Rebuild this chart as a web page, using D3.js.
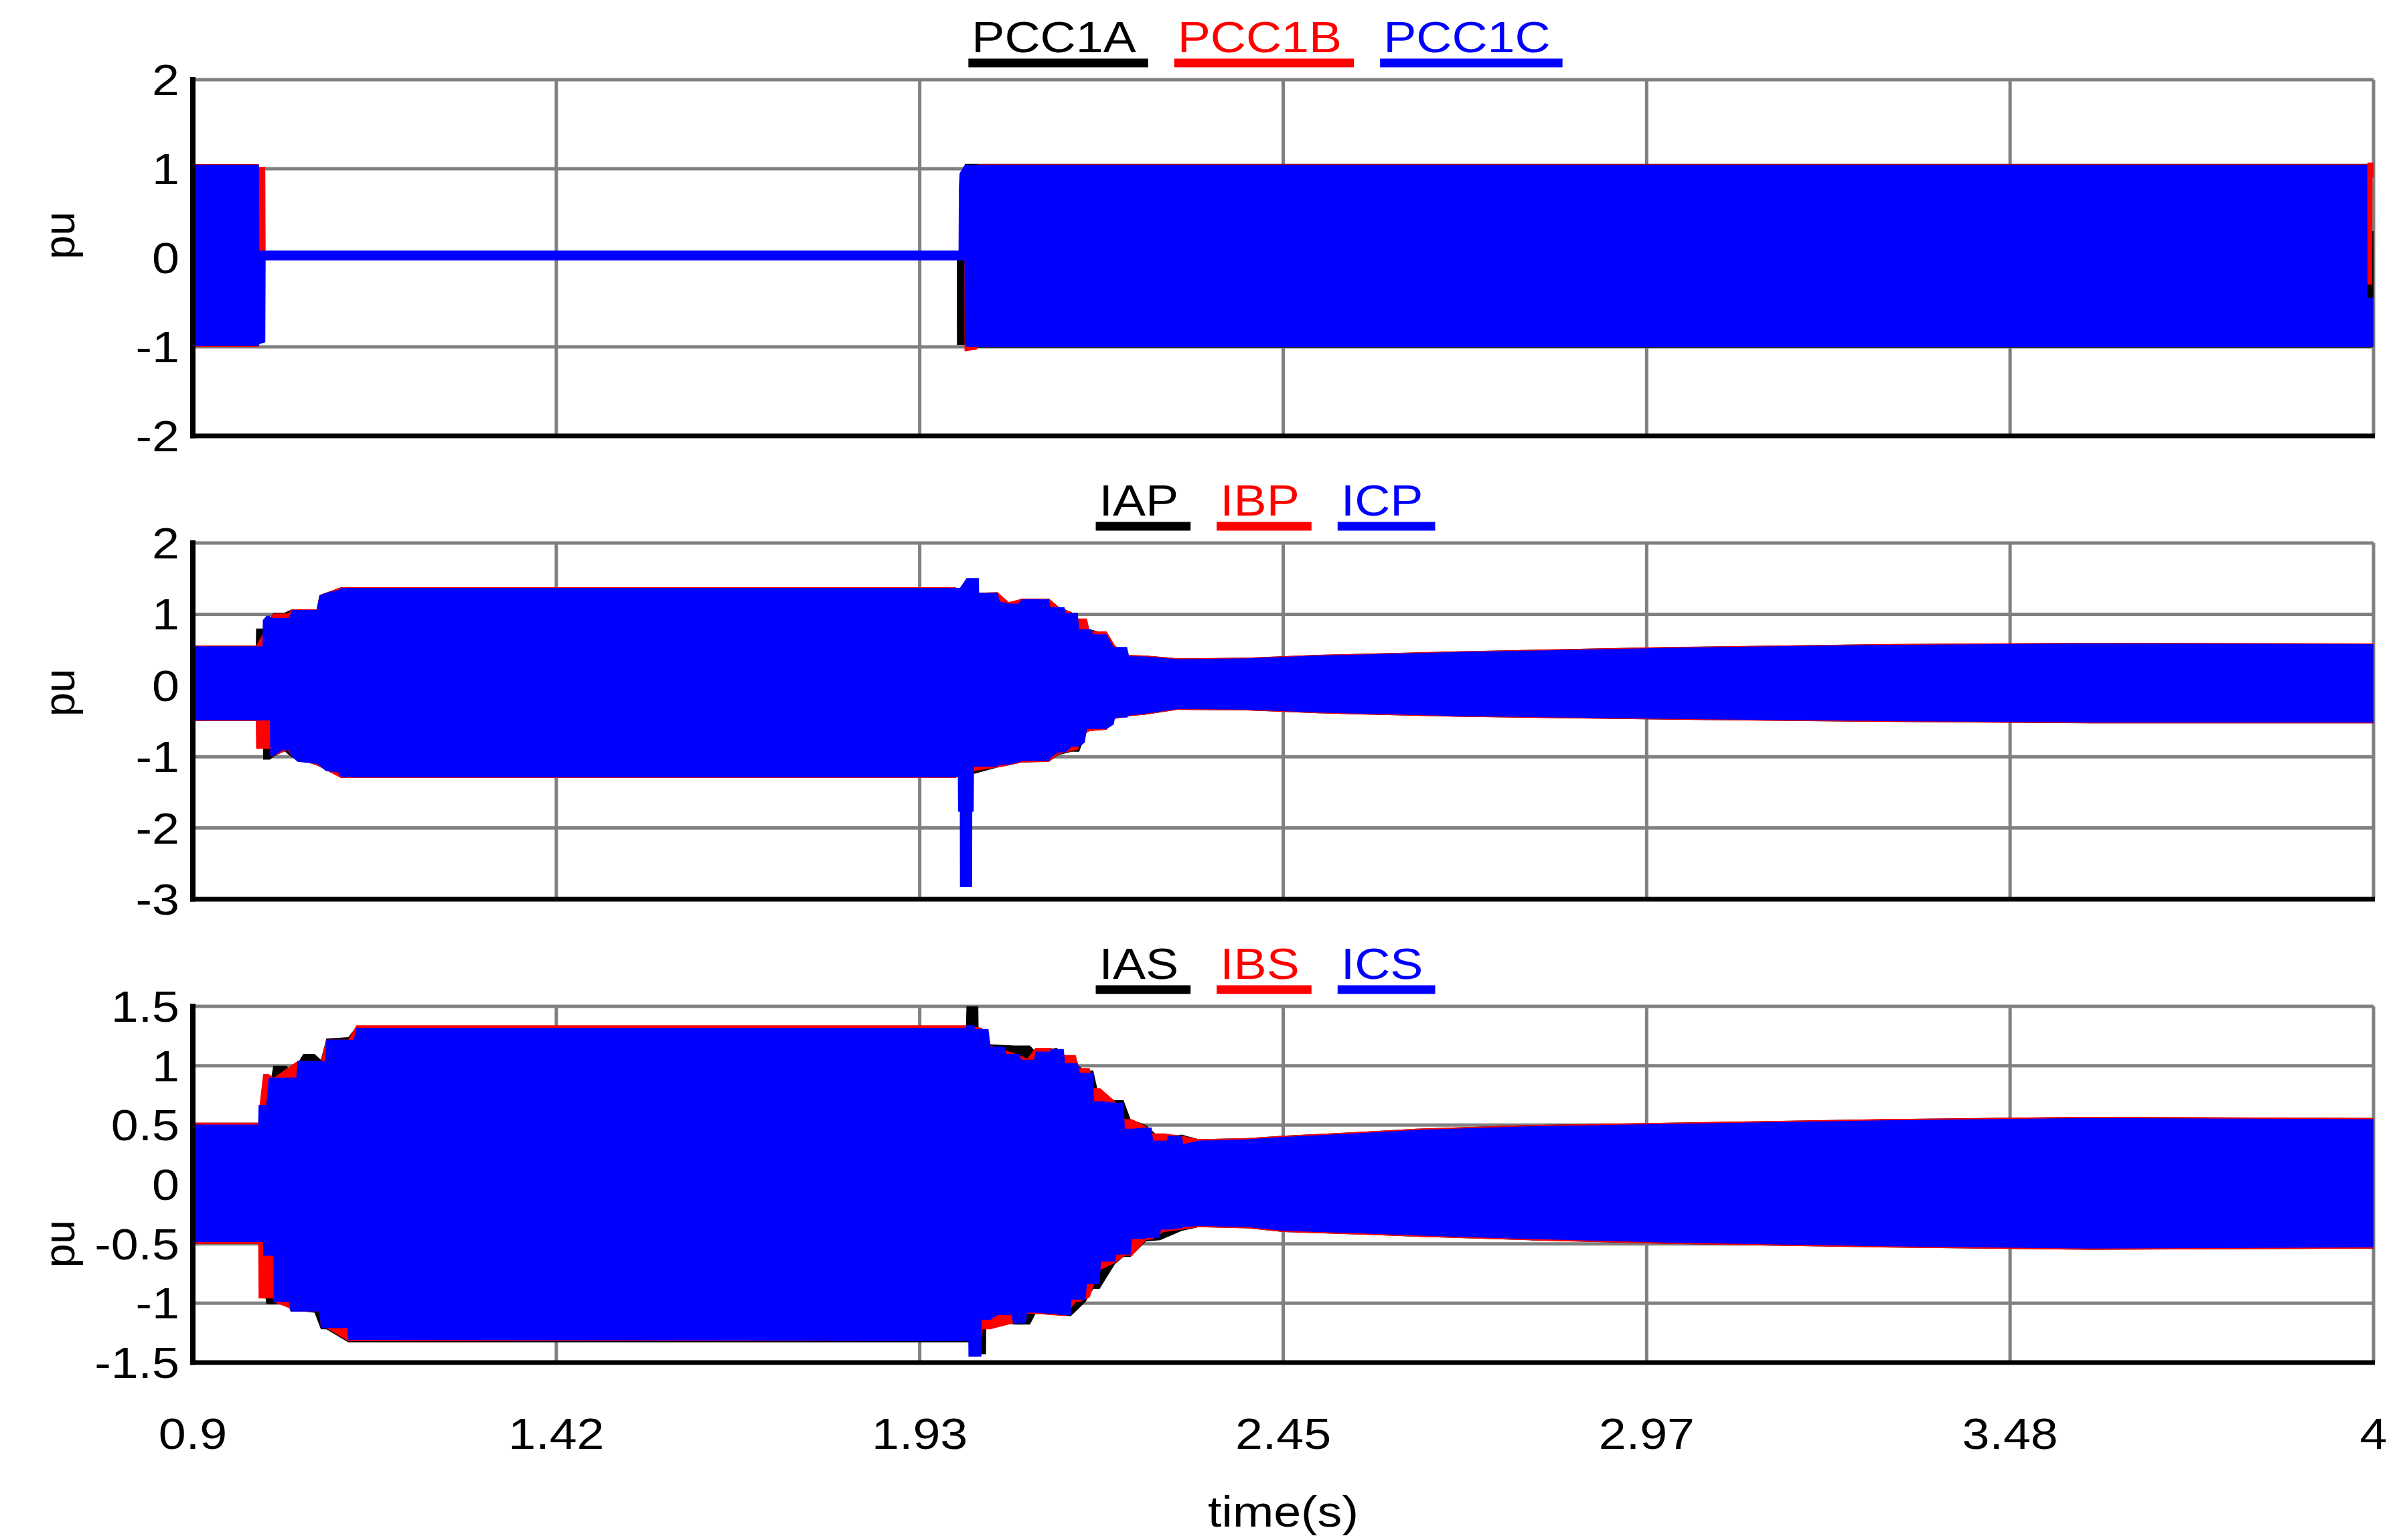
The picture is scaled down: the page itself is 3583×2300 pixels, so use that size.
<!DOCTYPE html>
<html><head><meta charset="utf-8">
<script src="https://cdn.jsdelivr.net/npm/d3@7/dist/d3.min.js"></script>
<style>html,body{margin:0;padding:0;background:#fff;}svg{display:block;}</style>
</head><body>
<svg id="chart" width="3583" height="2300"></svg>
<script>
// ---------- DATA (envelopes: [time, lower, upper]) ----------
const timeTicks = [0.9, 1.4167, 1.9333, 2.45, 2.9667, 3.4833, 4];
const timeTickLabels = ["0.9", "1.42", "1.93", "2.45", "2.97", "3.48", "4"];
const p1Ticks = [2, 1, 0, -1, -2];
const p2Ticks = [2, 1, 0, -1, -2, -3];
const p3Ticks = [1.5, 1, 0.5, 0, -0.5, -1, -1.5];
const p3TickLabels = ["1.5", "1", "0.5", "0", "-0.5", "-1", "-1.5"];

const PCC1A = [[0.900,-1.00,1.05],[0.9935,-1.00,1.05],[0.994,-0.02,0.05],[1.986,-0.02,0.05],[1.9862,-0.98,0.05],
  [1.997,-0.98,0.05],[1.9975,-1.01,1.055],[3.9975,-1.01,1.055],[3.998,-0.55,0.30],[4.0,-0.55,0.30]];
const PCC1B = [[0.900,-1.00,1.05],[0.9935,-1.00,1.05],[0.994,0.00,1.02],[1.003,0.00,1.02],[1.0035,-0.02,0.05],
  [1.9968,-0.02,0.05],[1.997,-1.05,0.05],[2.015,-1.03,1.0],[2.0155,-1.00,1.05],[3.991,-1.00,1.05],
  [3.9915,-0.30,1.07],[3.998,-0.30,1.07],[3.9985,0.90,1.07],[4.0,0.90,1.07]];
const PCC1C = [[0.900,-0.99,1.045],[0.994,-0.99,1.045],[0.9945,-0.97,0.08],[1.003,-0.95,0.08],[1.0035,-0.03,0.08],
  [1.9885,-0.03,0.08],[1.989,-0.03,0.80],[1.990,-0.03,0.95],[1.997,-0.03,1.04],[1.9975,-0.95,1.04],
  [2.000,-1.00,1.045],[3.991,-1.00,1.045],[3.9915,-1.00,-0.45],[4.0,-1.00,-0.45]];

const IAP = [[0.900,-0.50,0.56],[0.9895,-0.50,0.56],[0.990,-0.50,0.80],[0.9995,-0.50,0.80],[1.000,-1.04,0.80],
  [1.0095,-1.04,0.95],[1.0148,-1.00,1.02],[1.030,-0.92,1.02],[1.041,-1.01,1.07],[1.076,-1.12,1.07],
  [1.080,-1.14,1.27],[1.111,-1.30,1.38],[1.985,-1.30,1.38],[1.9855,-1.24,1.30],[2.0105,-1.24,1.30],
  [2.044,-1.15,1.31],[2.060,-1.12,1.16],[2.079,-1.08,1.22],[2.117,-1.07,1.22],[2.130,-0.98,1.11],
  [2.149,-0.93,1.03],[2.160,-0.93,0.90],[2.171,-0.64,0.80],[2.199,-0.62,0.73],[2.211,-0.46,0.55],
  [2.231,-0.43,0.42],[2.253,-0.41,0.42],[2.30,-0.34,0.38],[2.40,-0.35,0.39],[2.50,-0.39,0.43],
  [2.70,-0.44,0.48],[3.00,-0.48,0.54],[3.30,-0.51,0.58],[3.60,-0.53,0.60],[4.00,-0.53,0.59]];
const IBP = [[0.900,-0.50,0.56],[0.9895,-0.50,0.56],[0.990,-0.89,0.56],[1.0095,-0.89,0.90],[1.010,-0.99,0.96],
  [1.015,-0.99,1.01],[1.035,-0.91,1.01],[1.041,-1.00,1.07],[1.076,-1.12,1.07],[1.080,-1.14,1.27],
  [1.111,-1.30,1.38],[1.985,-1.30,1.38],[1.9855,-1.20,1.30],[2.0105,-1.20,1.30],[2.044,-1.15,1.31],
  [2.060,-1.12,1.17],[2.079,-1.08,1.22],[2.117,-1.07,1.22],[2.130,-0.97,1.11],[2.149,-0.92,1.03],
  [2.158,-0.90,0.94],[2.171,-0.66,0.94],[2.175,-0.64,0.76],[2.199,-0.62,0.76],[2.211,-0.47,0.56],
  [2.231,-0.43,0.43],[2.253,-0.41,0.42],[2.30,-0.34,0.38],[2.40,-0.35,0.39],[2.50,-0.39,0.43],
  [2.70,-0.44,0.48],[3.00,-0.48,0.54],[3.30,-0.51,0.58],[3.60,-0.53,0.60],[4.00,-0.53,0.59]];
const ICP = [[0.900,-0.49,0.55],[0.999,-0.49,0.55],[0.9995,-0.49,0.92],[1.005,-0.49,0.98],[1.0095,-0.49,0.98],
  [1.0100,-0.99,0.96],[1.0150,-0.99,0.95],[1.0276,-0.91,0.95],[1.0366,-0.91,0.95],[1.041,-1.00,1.06],
  [1.049,-1.07,1.06],[1.076,-1.10,1.06],[1.080,-1.12,1.26],[1.089,-1.20,1.30],[1.1066,-1.22,1.34],
  [1.111,-1.29,1.37],[1.9875,-1.29,1.37],[1.9878,-1.77,1.37],[1.9903,-1.77,1.37],[1.9905,-2.83,1.37],
  [2.0000,-2.83,1.51],[2.0078,-2.83,1.51],[2.0080,-1.77,1.51],[2.0100,-1.77,1.51],[2.0105,-1.14,1.51],
  [2.0173,-1.14,1.51],[2.0178,-1.14,1.30],[2.044,-1.14,1.30],[2.047,-1.11,1.18],[2.060,-1.11,1.15],
  [2.073,-1.08,1.15],[2.079,-1.06,1.21],[2.117,-1.06,1.21],[2.119,-1.02,1.10],[2.130,-0.94,1.10],
  [2.139,-0.94,1.10],[2.141,-0.94,1.02],[2.149,-0.86,1.02],[2.158,-0.86,1.02],[2.160,-0.86,0.79],
  [2.168,-0.80,0.79],[2.171,-0.61,0.79],[2.177,-0.61,0.79],[2.180,-0.61,0.72],[2.199,-0.61,0.72],
  [2.209,-0.55,0.54],[2.211,-0.45,0.54],[2.228,-0.45,0.54],[2.231,-0.42,0.41],[2.253,-0.40,0.41],
  [2.30,-0.33,0.37],[2.40,-0.34,0.38],[2.50,-0.38,0.42],[2.70,-0.43,0.47],[3.00,-0.47,0.53],
  [3.30,-0.50,0.57],[3.60,-0.52,0.59],[4.00,-0.52,0.58]];

const IAS = [[0.900,-0.50,0.52],[0.993,-0.50,0.52],[1.0045,-1.01,0.67],[1.0144,-1.01,1.00],[1.034,-0.99,1.00],
  [1.039,-1.07,0.92],[1.057,-1.07,1.10],[1.073,-1.08,1.10],[1.082,-1.22,1.05],[1.0898,-1.22,1.23],
  [1.121,-1.33,1.24],[1.1325,-1.33,1.33],[1.999,-1.33,1.33],[2.000,-1.33,1.55],[2.0165,-1.33,1.55],
  [2.017,-1.20,1.30],[2.021,-1.43,1.30],[2.0275,-1.43,1.30],[2.028,-1.15,1.30],[2.034,-1.15,1.18],
  [2.068,-1.18,1.17],[2.090,-1.18,1.17],[2.098,-1.09,1.12],[2.128,-1.10,1.15],[2.148,-1.11,1.04],
  [2.169,-0.99,0.96],[2.180,-0.88,0.96],[2.189,-0.88,0.72],[2.211,-0.67,0.71],[2.223,-0.61,0.71],
  [2.233,-0.61,0.55],[2.255,-0.48,0.50],[2.275,-0.47,0.39],[2.306,-0.39,0.42],[2.33,-0.36,0.38],
  [2.40,-0.37,0.39],[2.45,-0.40,0.41],[2.55,-0.42,0.44],[2.64,-0.44,0.47],[2.80,-0.47,0.50],
  [3.00,-0.50,0.52],[3.30,-0.53,0.55],[3.60,-0.55,0.57],[4.00,-0.54,0.56]];
const IBS = [[0.900,-0.50,0.52],[0.993,-0.50,0.52],[0.9935,-0.96,0.60],[1.000,-0.96,0.93],[1.0078,-0.96,0.93],
  [1.0144,-0.96,0.90],[1.015,-0.99,0.90],[1.049,-1.07,1.04],[1.080,-1.07,1.04],[1.082,-1.21,1.04],
  [1.0898,-1.21,1.22],[1.121,-1.32,1.22],[1.1325,-1.32,1.34],[1.999,-1.32,1.34],[2.021,-1.32,1.32],
  [2.023,-1.22,1.31],[2.034,-1.22,1.17],[2.066,-1.17,1.11],[2.086,-1.09,1.06],[2.098,-1.09,1.15],
  [2.120,-1.10,1.15],[2.140,-1.11,1.09],[2.155,-0.99,1.09],[2.160,-0.99,0.98],[2.175,-0.95,0.98],
  [2.180,-0.86,0.81],[2.190,-0.72,0.81],[2.211,-0.66,0.70],[2.225,-0.60,0.55],[2.235,-0.60,0.55],
  [2.255,-0.47,0.49],[2.265,-0.46,0.43],[2.280,-0.40,0.43],[2.306,-0.38,0.41],[2.33,-0.36,0.38],
  [2.40,-0.37,0.39],[2.45,-0.40,0.41],[2.55,-0.42,0.44],[2.64,-0.44,0.47],[2.80,-0.47,0.50],
  [3.00,-0.50,0.52],[3.30,-0.53,0.55],[3.60,-0.55,0.57],[4.00,-0.54,0.56]];
const ICS = [[0.900,-0.485,0.505],[0.993,-0.485,0.505],[0.9935,-0.485,0.67],[0.9996,-0.485,0.67],[1.000,-0.60,0.67],
  [1.0045,-0.60,0.67],[1.0078,-0.60,0.90],[1.0144,-0.60,0.90],[1.015,-0.99,0.90],[1.037,-0.99,0.90],
  [1.039,-1.07,0.90],[1.047,-1.07,0.90],[1.049,-1.07,1.04],[1.080,-1.07,1.04],[1.082,-1.21,1.04],
  [1.088,-1.21,1.04],[1.0898,-1.21,1.22],[1.1193,-1.21,1.22],[1.121,-1.31,1.22],[1.129,-1.31,1.22],
  [1.1325,-1.31,1.32],[1.999,-1.32,1.32],[1.9995,-1.32,1.34],[2.0024,-1.32,1.34],[2.0026,-1.45,1.34],
  [2.011,-1.45,1.34],[2.0125,-1.45,1.31],[2.021,-1.45,1.31],[2.0215,-1.14,1.31],[2.031,-1.14,1.31],
  [2.034,-1.14,1.16],[2.044,-1.10,1.16],[2.054,-1.10,1.16],[2.056,-1.10,1.10],[2.064,-1.10,1.10],
  [2.066,-1.17,1.10],[2.074,-1.17,1.10],[2.078,-1.17,1.05],[2.084,-1.17,1.05],[2.086,-1.08,1.05],
  [2.096,-1.08,1.05],[2.098,-1.08,1.12],[2.118,-1.09,1.12],[2.120,-1.09,1.14],[2.128,-1.09,1.14],
  [2.129,-1.10,1.14],[2.138,-1.10,1.14],[2.140,-1.10,1.02],[2.148,-1.10,1.02],[2.149,-0.97,1.02],
  [2.158,-0.97,1.02],[2.161,-0.97,0.94],[2.169,-0.97,0.94],[2.171,-0.84,0.94],[2.180,-0.84,0.94],
  [2.181,-0.84,0.70],[2.189,-0.84,0.70],[2.191,-0.65,0.70],[2.211,-0.65,0.69],[2.213,-0.59,0.69],
  [2.223,-0.59,0.69],[2.225,-0.59,0.47],[2.233,-0.59,0.47],[2.235,-0.46,0.47],[2.255,-0.46,0.48],
  [2.256,-0.45,0.48],[2.263,-0.45,0.48],[2.265,-0.45,0.37],[2.275,-0.45,0.37],[2.276,-0.38,0.37],
  [2.285,-0.38,0.37],[2.286,-0.38,0.41],[2.306,-0.37,0.41],[2.308,-0.36,0.34],[2.33,-0.35,0.37],
  [2.40,-0.36,0.38],[2.45,-0.39,0.40],[2.55,-0.41,0.43],[2.64,-0.43,0.46],[2.80,-0.46,0.49],
  [3.00,-0.49,0.51],[3.30,-0.52,0.54],[3.60,-0.54,0.56],[4.00,-0.53,0.55]];

const panelNames = [["PCC1A","PCC1B","PCC1C"],["IAP","IBP","ICP"],["IAS","IBS","ICS"]];
const panelData = [[PCC1A,PCC1B,PCC1C],[IAP,IBP,ICP],[IAS,IBS,ICS]];
const phaseColors = ["#000000","#ff0000","#0000ff"];
const yDomains = [[-2,2],[-3,2],[-1.5,1.5]];
const yTicks = [p1Ticks, p2Ticks, p3Ticks];
const yTickLabels = [p1Ticks.map(String), p2Ticks.map(String), p3TickLabels];
const yLabelAt = [0.25, -0.1, -0.5];

// ---------- LAYOUT ----------
const X0 = 288, X1 = 3545;
const panelTop = [119, 811, 1503], panelH = 532;
const FONT = "'Liberation Sans', Arial, Helvetica, sans-serif";
const FS = 64, SX = 1.15;
const GRID = "#808080";

const svg = d3.select("#chart");
svg.append("rect").attr("width",3583).attr("height",2300).attr("fill","#fff");
const x = d3.scaleLinear().domain([0.9, 4]).range([X0, X1]);

panelData.forEach((series, p) => {
  const top = panelTop[p], bot = top + panelH;
  const y = d3.scaleLinear().domain(yDomains[p]).range([bot, top]);
  const g = svg.append("g");

  const cid = "clip" + p;
  svg.append("clipPath").attr("id", cid).append("rect")
    .attr("x", X0).attr("y", top).attr("width", X1 - X0 + 3).attr("height", panelH);

  // grid
  g.selectAll(".hg").data(yTicks[p].filter(v => v !== yDomains[p][0])).enter().append("line")
    .attr("x1", X0).attr("x2", X1).attr("y1", d => y(d)).attr("y2", d => y(d))
    .attr("stroke", GRID).attr("stroke-width", 5);
  g.selectAll(".vg").data(timeTicks.slice(1)).enter().append("line")
    .attr("x1", d => x(d)).attr("x2", d => x(d)).attr("y1", top).attr("y2", bot)
    .attr("stroke", GRID).attr("stroke-width", 5);

  // envelopes
  const area = d3.area().x(d => x(d[0])).y0(d => y(d[1])).y1(d => y(d[2])).curve(d3.curveLinear);
  const dg = g.append("g").attr("clip-path", `url(#${cid})`);
  series.forEach((s, i) => {
    dg.append("path").datum(s).attr("d", area).attr("fill", phaseColors[i]).attr("stroke", "none");
  });

  // axes
  g.append("line").attr("x1", X0).attr("x2", X0).attr("y1", top - 4).attr("y2", bot + 3.5)
    .attr("stroke", "#000").attr("stroke-width", 8);
  g.append("line").attr("x1", X0 - 4).attr("x2", X1 + 2).attr("y1", bot).attr("y2", bot)
    .attr("stroke", "#000").attr("stroke-width", 7);

  // y tick labels
  g.selectAll(".yl").data(yTicks[p]).enter().append("text")
    .attr("transform", d => `translate(268,${y(d) + FS * 0.36}) scale(${SX},1)`)
    .attr("text-anchor", "end").attr("font-family", FONT).attr("font-size", FS).attr("fill", "#000")
    .text((d, i) => yTickLabels[p][i]);

  // y axis title
  g.append("text").attr("transform", `translate(111,${y(yLabelAt[p])}) rotate(-90)`)
    .attr("text-anchor", "middle").attr("font-family", FONT).attr("font-size", FS).attr("fill", "#000").text("pu");

  // legend
  const lg = svg.append("g");
  const items = panelNames[p].map((name, i) => {
    const t = lg.append("text").text(name).attr("font-family", FONT).attr("font-size", FS)
      .attr("fill", phaseColors[i]);
    return { t, w: t.node().getComputedTextLength() * SX, c: phaseColors[i] };
  });
  const PL = 5, PR = 18, GAP = 39;
  const total = d3.sum(items, d => PL + d.w + PR) + GAP * (items.length - 1);
  let cx = 1890 - total / 2;
  items.forEach(it => {
    it.t.attr("transform", `translate(${cx + PL},${top - 41}) scale(${SX},1)`);
    lg.append("rect").attr("x", cx).attr("y", top - 25 - 6.5).attr("width", PL + it.w + PR).attr("height", 13)
      .attr("fill", it.c);
    cx += PL + it.w + PR + GAP;
  });
});

// x tick labels
svg.selectAll(".xl").data(timeTicks).enter().append("text")
  .attr("transform", d => `translate(${x(d)},2164) scale(${SX},1)`)
  .attr("text-anchor", "middle").attr("font-family", FONT).attr("font-size", FS).attr("fill", "#000")
  .text((d, i) => timeTickLabels[i]);
svg.append("text").attr("transform", `translate(${(X0 + X1) / 2},2280) scale(${SX},1)`)
  .attr("text-anchor", "middle").attr("font-family", FONT).attr("font-size", FS).attr("fill", "#000")
  .text("time(s)");
</script>
</body></html>
